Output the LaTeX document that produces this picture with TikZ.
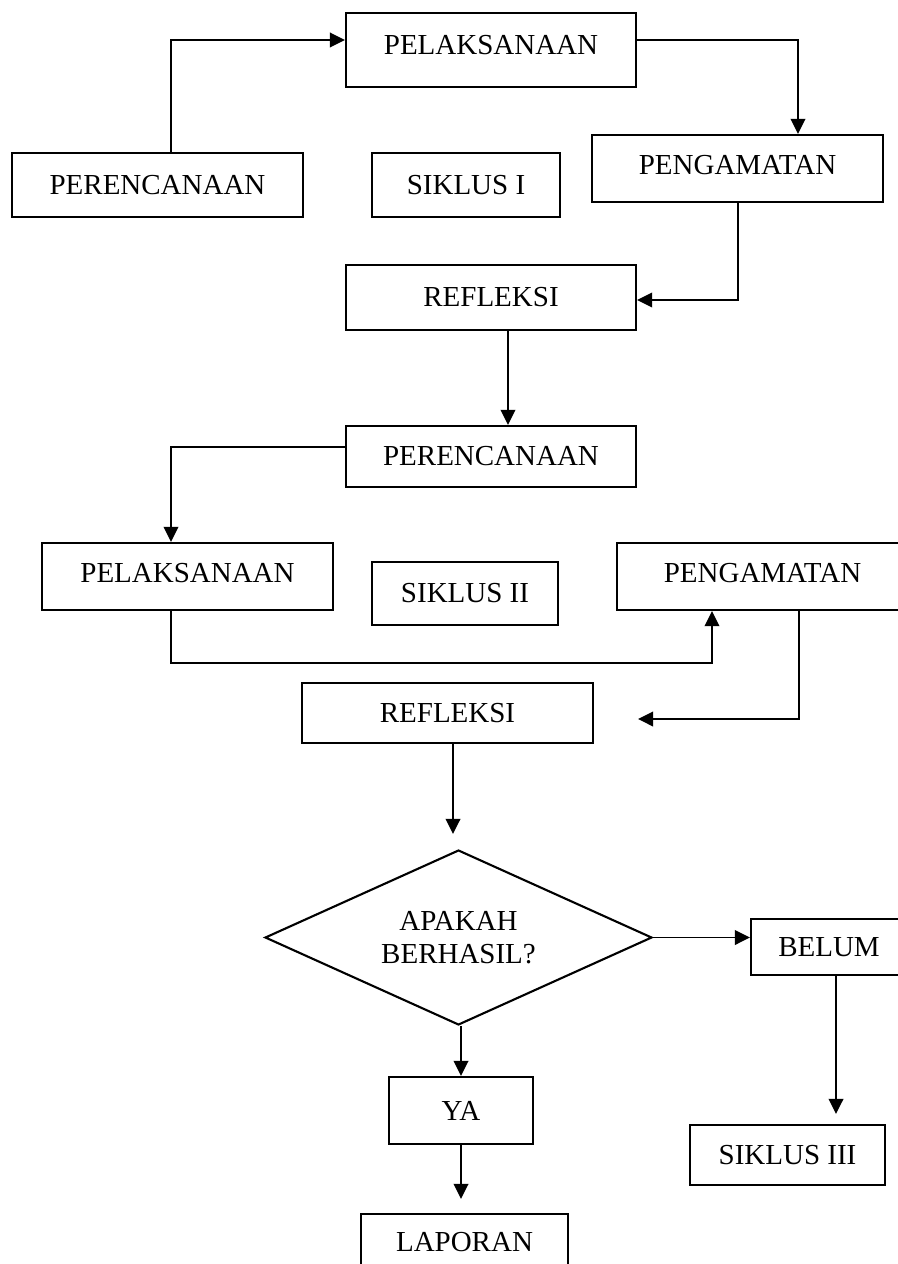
\documentclass[tikz,border=0pt]{standalone}
\usepackage{fontspec}
\setmainfont{Liberation Serif}
\usetikzlibrary{arrows.meta,shapes.geometric}

\tikzset{
  kotak/.style={draw, line width=1.2pt, inner sep=0pt, font=\fontsize{16.5}{18}\selectfont},
  keputusan/.style={diamond, aspect=2.2, draw, line width=1.2pt, inner sep=0pt, align=center, font=\fontsize{16.5}{19}\selectfont},
  panah/.style={line width=1.1pt, -{Triangle[length=0.3cm,width=0.29cm]}}
}

\begin{document}
\begin{tikzpicture}[x=0.02cm,y=-0.02cm]
\useasboundingbox (0,0) rectangle (898,1264);
\clip (0,0) rectangle (898,1264);
\node[kotak, minimum width=5.80cm, minimum height=1.48cm, text depth=0.2cm] (pel1) at (491,50) {PELAKSANAAN};
\node[kotak, minimum width=5.82cm, minimum height=1.28cm] (per1) at (157.5,185) {PERENCANAAN};
\node[kotak, minimum width=3.76cm, minimum height=1.28cm] (sik1) at (466,185) {SIKLUS I};
\node[kotak, minimum width=5.82cm, minimum height=1.34cm, text depth=0.14cm] (peng1) at (737.5,168.5) {PENGAMATAN};
\node[kotak, minimum width=5.80cm, minimum height=1.30cm] (ref1) at (491,297.5) {REFLEKSI};
\node[kotak, minimum width=5.80cm, minimum height=1.22cm] (per2) at (491,456.5) {PERENCANAAN};
\node[kotak, minimum width=5.82cm, minimum height=1.34cm, text depth=0.14cm] (pel2) at (187.5,576.5) {PELAKSANAAN};
\node[kotak, minimum width=3.72cm, minimum height=1.26cm] (sik2) at (465,593.5) {SIKLUS II};
\node[kotak, minimum width=5.82cm, minimum height=1.34cm, text depth=0.14cm] (peng2) at (762.5,576.5) {PENGAMATAN};
\node[kotak, minimum width=5.82cm, minimum height=1.20cm] (ref2) at (447.5,713) {REFLEKSI};
\node[keputusan, minimum width=7.74cm, minimum height=3.50cm] (tanya) at (458.5,937.5) {APAKAH\\BERHASIL?};
\node[kotak, minimum width=3.12cm, minimum height=1.12cm] (belum) at (829,947) {BELUM};
\node[kotak, minimum width=3.90cm, minimum height=1.20cm] (sik3) at (787.5,1155) {SIKLUS III};
\node[kotak, minimum width=2.88cm, minimum height=1.34cm] (ya) at (461,1110.5) {YA};
\node[kotak, minimum width=4.14cm, minimum height=1.12cm] (lap) at (464.5,1242) {LAPORAN};
\coordinate (ujung) at (638,719);

\draw[panah] (171,0 |- per1.north) |- (pel1.west |- 0,40);
\draw[panah] (pel1.east |- 0,40) -| (798,0 |- peng1.north);
\draw[panah] (738,0 |- peng1.south) |- (ref1.east |- 0,300);
\draw[panah] (508,0 |- ref1.south) -- (508,0 |- per2.north);
\draw[panah] (per2.west |- 0,447) -| (171,0 |- pel2.north);
\draw[panah] (171,0 |- pel2.south) -- ++(0,52) -| (712,0 |- peng2.south);
\draw[panah] (799,0 |- peng2.south) |- (ujung);
\draw[panah, shorten >=0.3cm] (453,0 |- ref2.south) -- (453,0 |- tanya.north);
\draw[panah] (tanya.east) -- (belum.west |- tanya.east);
\draw[panah, shorten >=0.2cm] (836,0 |- belum.south) -- (836,0 |- sik3.north);
\draw[panah] (ya.north |- tanya.south) -- (ya.north);
\draw[panah, shorten >=0.28cm] (ya.south) -- (ya.south |- lap.north);
\end{tikzpicture}
\end{document}
